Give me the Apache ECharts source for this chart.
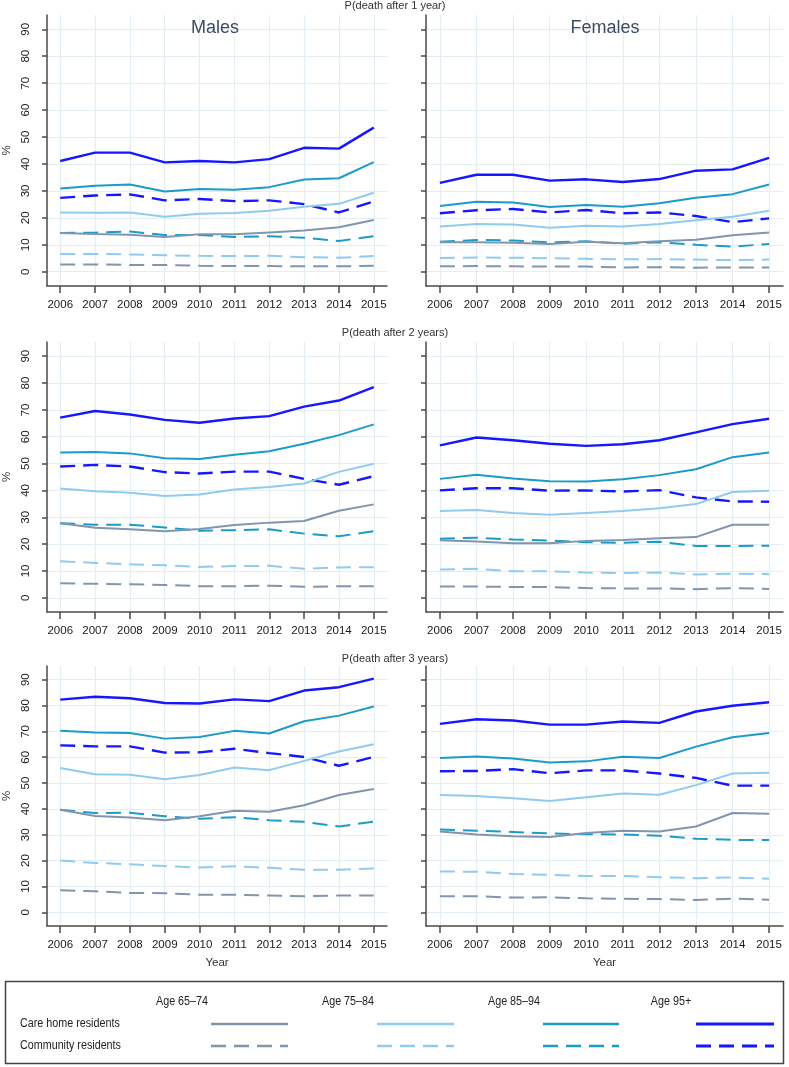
<!DOCTYPE html>
<html>
<head>
<meta charset="utf-8">
<script src="https://cdn.jsdelivr.net/npm/echarts@6/dist/echarts.min.js"></script>
<style>
html,body{margin:0;padding:0;background:#fff;}
#chart{width:789px;height:1067px;}
</style>
</head>
<body>
<div id="chart"></div>
<script>
// ---------- data ----------
const years = [2006, 2007, 2008, 2009, 2010, 2011, 2012, 2013, 2014, 2015];
const yTicks = [0, 10, 20, 30, 40, 50, 60, 70, 80, 90];
const ageGroups = ['Age 65–74', 'Age 75–84', 'Age 85–94', 'Age 95+'];
const residence = ['Care home residents', 'Community residents'];
const rowTitles = ['P(death after 1 year)', 'P(death after 2 years)', 'P(death after 3 years)'];
const sexes = ['Males', 'Females'];

// each array: [65-74, 75-84, 85-94, 95+]
const males1Care = [
  [14.4, 14.0, 13.7, 12.9, 13.9, 13.9, 14.6, 15.3, 16.5, 19.2],
  [22.0, 21.9, 22.0, 20.4, 21.5, 21.8, 22.6, 24.1, 25.2, 29.3],
  [30.9, 31.9, 32.4, 29.8, 30.7, 30.4, 31.4, 34.2, 34.7, 40.7],
  [41.1, 44.2, 44.2, 40.6, 41.1, 40.6, 41.8, 46.0, 45.7, 53.5]
];
const males1Comm = [
  [2.7, 2.7, 2.5, 2.5, 2.2, 2.1, 2.1, 2.0, 2.0, 2.2],
  [6.6, 6.6, 6.4, 6.1, 5.9, 5.8, 5.9, 5.4, 5.2, 5.8],
  [14.4, 14.5, 14.9, 13.6, 13.6, 12.9, 13.2, 12.6, 11.4, 13.2],
  [27.4, 28.3, 28.7, 26.5, 27.0, 26.2, 26.5, 25.1, 22.0, 26.1]
];
const females1Care = [
  [10.9, 10.9, 10.8, 10.3, 11.1, 10.6, 11.3, 11.9, 13.5, 14.6],
  [16.8, 17.7, 17.5, 16.3, 17.1, 16.8, 17.7, 19.1, 20.4, 22.6],
  [24.4, 26.0, 25.7, 24.0, 24.8, 24.1, 25.4, 27.5, 28.8, 32.4],
  [33.0, 36.0, 36.0, 33.8, 34.3, 33.3, 34.4, 37.5, 38.0, 42.3]
];
const females1Comm = [
  [2.0, 2.1, 2.0, 1.9, 1.9, 1.6, 1.7, 1.5, 1.6, 1.6],
  [5.1, 5.3, 5.2, 5.0, 4.8, 4.6, 4.7, 4.5, 4.3, 4.5],
  [11.1, 11.8, 11.6, 10.9, 11.3, 10.4, 10.9, 10.0, 9.3, 10.3],
  [21.7, 22.8, 23.3, 22.0, 22.9, 21.7, 22.0, 20.7, 18.4, 19.8]
];
const males2Care = [
  [27.8, 26.1, 25.5, 24.8, 25.6, 27.1, 28.0, 28.6, 32.4, 34.8],
  [40.7, 39.7, 39.1, 37.9, 38.5, 40.3, 41.3, 42.6, 46.9, 49.9],
  [54.1, 54.3, 53.8, 52.0, 51.7, 53.3, 54.6, 57.4, 60.6, 64.6],
  [67.1, 69.6, 68.3, 66.3, 65.2, 66.8, 67.7, 71.2, 73.5, 78.5]
];
const males2Comm = [
  [5.4, 5.2, 5.0, 4.8, 4.3, 4.3, 4.5, 4.1, 4.3, 4.3],
  [13.6, 13.0, 12.5, 12.1, 11.5, 11.8, 11.9, 10.8, 11.3, 11.4],
  [27.8, 27.2, 27.2, 26.2, 25.0, 25.2, 25.5, 23.9, 22.9, 24.8],
  [48.9, 49.5, 48.9, 46.8, 46.3, 47.0, 47.0, 44.3, 42.1, 45.3]
];
const females2Care = [
  [21.4, 21.0, 20.3, 20.3, 21.2, 21.5, 22.2, 22.6, 27.2, 27.2],
  [32.3, 32.7, 31.6, 30.9, 31.6, 32.3, 33.4, 34.9, 39.4, 39.9],
  [44.3, 45.8, 44.4, 43.4, 43.3, 44.2, 45.7, 47.9, 52.4, 54.1],
  [56.8, 59.7, 58.7, 57.4, 56.6, 57.2, 58.7, 61.6, 64.7, 66.7]
];
const females2Comm = [
  [4.2, 4.2, 4.0, 4.0, 3.6, 3.5, 3.5, 3.2, 3.6, 3.3],
  [10.5, 10.8, 9.9, 9.9, 9.4, 9.2, 9.4, 8.7, 9.0, 8.8],
  [22.0, 22.4, 21.7, 21.3, 20.7, 20.5, 20.9, 19.3, 19.3, 19.4],
  [40.0, 40.8, 40.8, 39.9, 40.0, 39.6, 40.1, 37.4, 35.9, 35.8]
];
const males3Care = [
  [39.7, 37.3, 36.7, 35.6, 37.2, 39.3, 38.9, 41.4, 45.4, 47.7],
  [55.8, 53.4, 53.2, 51.5, 53.1, 56.0, 55.0, 58.6, 62.2, 65.0],
  [70.2, 69.6, 69.4, 67.2, 67.8, 70.2, 69.2, 73.9, 76.1, 79.6],
  [82.3, 83.4, 82.8, 81.0, 80.8, 82.4, 81.7, 85.8, 87.1, 90.4]
];
const males3Comm = [
  [8.5, 8.1, 7.5, 7.4, 6.8, 6.8, 6.5, 6.2, 6.5, 6.5],
  [20.0, 19.1, 18.6, 17.9, 17.3, 17.8, 17.2, 16.5, 16.5, 16.9],
  [39.7, 38.4, 38.5, 37.2, 36.2, 36.8, 35.6, 35.0, 33.2, 35.1],
  [64.6, 64.2, 64.2, 61.8, 61.9, 63.3, 61.6, 60.1, 56.7, 60.1]
];
const females3Care = [
  [31.3, 30.1, 29.4, 29.1, 30.7, 31.6, 31.3, 33.2, 38.4, 38.1],
  [45.4, 45.0, 44.1, 43.1, 44.5, 46.0, 45.5, 49.2, 53.7, 54.0],
  [59.7, 60.3, 59.5, 58.0, 58.4, 60.2, 59.7, 64.1, 67.7, 69.4],
  [72.9, 74.7, 74.2, 72.6, 72.6, 73.8, 73.3, 77.7, 79.9, 81.3]
];
const females3Comm = [
  [6.2, 6.2, 5.7, 5.8, 5.4, 5.2, 5.1, 4.8, 5.3, 4.9],
  [15.8, 15.7, 14.8, 14.5, 14.0, 14.1, 13.6, 13.2, 13.5, 13.0],
  [32.0, 31.6, 31.1, 30.5, 30.2, 30.1, 29.6, 28.5, 28.0, 28.0],
  [54.6, 54.7, 55.4, 53.8, 54.9, 54.9, 53.7, 52.0, 49.0, 49.0]
];

// ---------- styles ----------
const ageColors = ['#8195ad', '#8fcbf0', '#1b9bc7', '#1717ff'];
const ageWidths = [2, 2, 2, 2.4];
const dashPattern = [15, 8];
const axisColor = '#4a4a4a';
const gridColor = '#e3eef4';
const font = "Liberation Sans, Arial, sans-serif";

const panels = [
  [males1Care, males1Comm, females1Care, females1Comm],
  [males2Care, males2Comm, females2Care, females2Comm],
  [males3Care, males3Comm, females3Care, females3Comm]
];

const colLeft = [42, 426];
const colWidth = [345, 357];
const rowTop = [15, 342, 666];
const rowHeight = [271, 270, 260];
const titleTop = [0, 327, 653];

const grids = [], xAxes = [], yAxes = [], series = [], titles = [];
let gi = 0;
for (let r = 0; r < 3; r++) {
  titles.push({
    text: rowTitles[r], left: 395, top: titleTop[r], textAlign: 'center', padding: 0,
    textStyle: {fontSize: 11, fontWeight: 'normal', color: '#333', fontFamily: font}
  });
  for (let c = 0; c < 2; c++) {
    grids.push({left: colLeft[c], top: rowTop[r], width: colWidth[c], height: rowHeight[r], containLabel: false});
    xAxes.push({
      gridIndex: gi, type: 'value', min: 2005.62, max: 2015.38,
      name: r === 2 ? 'Year' : '', nameLocation: 'middle', nameGap: 31,
      nameTextStyle: {fontSize: 11.5, color: '#333', fontFamily: font},
      axisLine: {show: true, onZero: false, lineStyle: {color: axisColor, width: 1.5}},
      axisTick: {show: true, length: 7, customValues: years, lineStyle: {color: axisColor, width: 1.5}},
      axisLabel: {customValues: years, margin: 13, fontSize: 11.5, color: '#1a1a1a', fontFamily: font, formatter: v => String(v)},
      splitLine: {show: true, lineStyle: {color: gridColor, width: 1.2}}
    });
    yAxes.push({
      gridIndex: gi, type: 'value', min: -5.3, max: 95.3,
      name: c === 0 ? '%' : '', nameLocation: 'middle', nameGap: 34, nameRotate: 90,
      nameTextStyle: {fontSize: 11.5, color: '#333', fontFamily: font},
      axisLine: {show: true, onZero: false, lineStyle: {color: axisColor, width: 1.5}},
      axisTick: {show: true, length: 5, customValues: yTicks, lineStyle: {color: axisColor, width: 1.5}},
      axisLabel: {show: c === 0, customValues: yTicks, rotate: 90, margin: 15, fontSize: 11.5, color: '#1a1a1a', fontFamily: font},
      splitLine: {show: true, lineStyle: {color: gridColor, width: 1.2}}
    });
    const care = panels[r][c * 2], comm = panels[r][c * 2 + 1];
    for (let t = 0; t < 2; t++) {
      const set = t === 0 ? care : comm;
      for (let a = 0; a < 4; a++) {
        series.push({
          type: 'line', name: residence[t] + ' ' + ageGroups[a],
          xAxisIndex: gi, yAxisIndex: gi,
          data: years.map((y, i) => [y, set[a][i]]),
          symbol: 'none', silent: true, animation: false,
          z: t === 0 ? 3 : 2,
          lineStyle: {color: ageColors[a], width: ageWidths[a], type: t === 0 ? 'solid' : dashPattern, cap: 'butt'}
        });
      }
    }
    gi++;
  }
}
titles.push({text: sexes[0], left: 215, top: 19, textAlign: 'center', padding: 0,
  textStyle: {fontSize: 18, fontWeight: 'normal', color: '#3b4b62', fontFamily: font}});
titles.push({text: sexes[1], left: 605, top: 19, textAlign: 'center', padding: 0,
  textStyle: {fontSize: 18, fontWeight: 'normal', color: '#3b4b62', fontFamily: font}});

// ---------- legend (table-style) ----------
const legendHeaderX = [182, 348, 514, 671];
const legendLineX = [[211, 288], [377, 454], [543, 619], [696, 774]];
const legendRowY = [1024, 1046];
const graphic = [];
graphic.push({type: 'rect', shape: {x: 5.5, y: 981.5, width: 778, height: 82},
  style: {fill: 'none', stroke: '#444', lineWidth: 1.5}, silent: true});
ageGroups.forEach((g, a) => {
  graphic.push({type: 'text', x: legendHeaderX[a], y: 1002, scaleX: 0.86,
    style: {text: g, fontSize: 12.5, fill: '#222', fontFamily: font, align: 'center', verticalAlign: 'middle'}});
});
residence.forEach((rname, t) => {
  graphic.push({type: 'text', x: 20, y: legendRowY[t], scaleX: 0.86,
    style: {text: rname, fontSize: 12.5, fill: '#222', fontFamily: font, align: 'left', verticalAlign: 'middle'}});
  ageGroups.forEach((g, a) => {
    graphic.push({type: 'line', silent: true,
      shape: {x1: legendLineX[a][0], y1: legendRowY[t], x2: legendLineX[a][1], y2: legendRowY[t]},
      style: {stroke: ageColors[a], lineWidth: ageWidths[a] + 0.4, lineDash: t === 0 ? null : dashPattern}});
  });
});

const chart = echarts.init(document.getElementById('chart'), null, {renderer: 'canvas'});
chart.setOption({
  backgroundColor: '#fff',
  animation: false,
  title: titles,
  grid: grids,
  xAxis: xAxes,
  yAxis: yAxes,
  series: series,
  graphic: graphic
});
</script>
</body>
</html>
